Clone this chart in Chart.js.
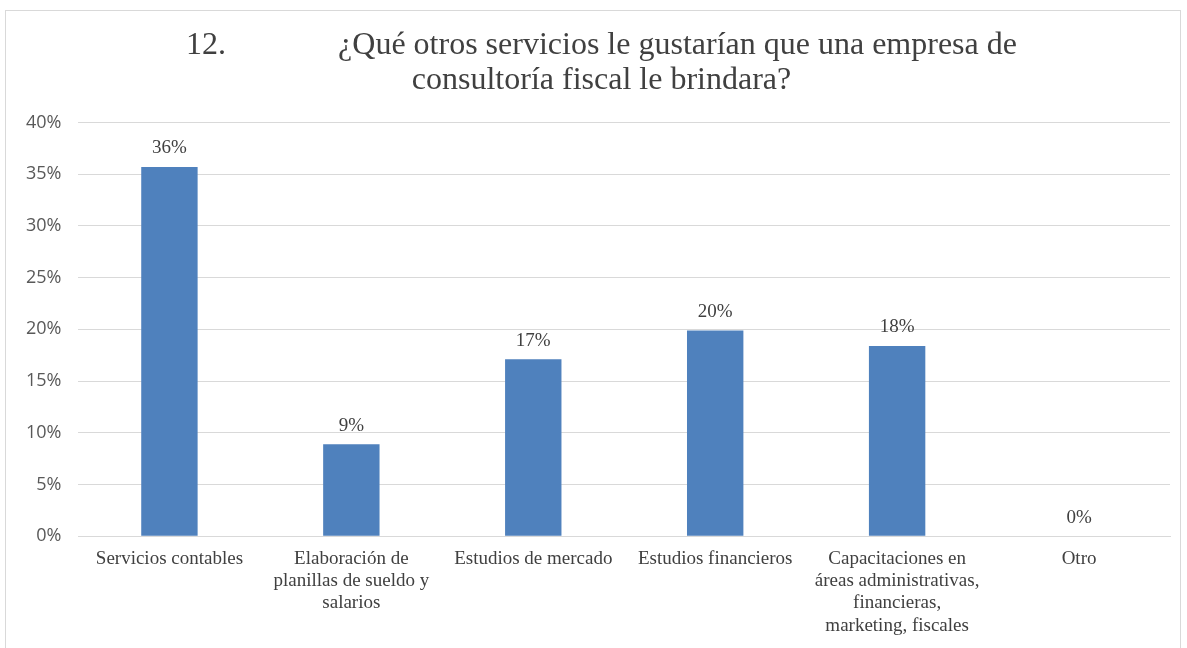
<!DOCTYPE html>
<html>
<head>
<meta charset="utf-8">
<script src="https://cdn.jsdelivr.net/npm/chart.js@4/dist/chart.umd.min.js"></script>
<style>
  html, body { margin: 0; padding: 0; background: #fff; }
  #wrap { position: relative; width: 1187px; height: 648px; }
  #frame { position: absolute; left: 5px; top: 10px; width: 1176px; height: 640px;
           border: 1px solid #d9d9d9; box-sizing: border-box; pointer-events: none; }
</style>
</head>
<body>
<div id="wrap">
  <canvas id="chart" width="1187" height="648"></canvas>
  <div id="frame"></div>
</div>
<script>
// Categories (x axis)
const categories = [
    'Servicios contables',
    ['Elaboración de', 'planillas de sueldo y', 'salarios'],
    'Estudios de mercado',
    'Estudios financieros',
    ['Capacitaciones en', 'áreas administrativas,', 'financieras,', 'marketing, fiscales'],
    'Otro'
];

// Percentages
const percentValues = [35.7, 8.9, 17.1, 19.9, 18.4, 0];

// Y axis ticks
const yTicks = [0, 5, 10, 15, 20, 25, 30, 35, 40];

// leading nbsp nudges the centred title a bit to the right, as in the original
const nb = n => '\u00A0'.repeat(n);
const titleLines = [
    nb(3) + '12.' + nb(14) + '¿Qué otros servicios le gustarían que una empresa de',
    nb(3) + 'consultoría fiscal le brindara?'
];

// Small plugin to write the value above each bar
const barValueLabels = {
    id: 'barValueLabels',
    afterDatasetsDraw(chart) {
        const ctx = chart.ctx;
        const meta = chart.getDatasetMeta(0);
        ctx.save();
        ctx.font = '19px "Liberation Serif", serif';
        ctx.fillStyle = '#404040';
        ctx.textAlign = 'center';
        ctx.textBaseline = 'bottom';
        meta.data.forEach((bar, i) => {
            const v = chart.data.datasets[0].data[i];
            ctx.fillText(Math.round(v) + '%', bar.x, bar.y - 9);
        });
        ctx.restore();
    }
};

const ctx = document.getElementById('chart').getContext('2d');
new Chart(ctx, {
    type: 'bar',
    data: {
        labels: categories,
        datasets: [{
            data: percentValues,
            backgroundColor: '#4f81bd',
            borderWidth: 0,
            categoryPercentage: 1.0,
            barPercentage: 0.31
        }]
    },
    options: {
        responsive: false,
        animation: false,
        layout: { padding: { top: 28, left: 9, right: 17, bottom: 8 } },
        plugins: {
            legend: { display: false },
            tooltip: { enabled: false },
            title: {
                display: true,
                text: titleLines,
                color: '#404040',
                font: { family: '"Liberation Serif", serif', size: 32, weight: 'normal', lineHeight: 1.1 },
                padding: { top: 0, bottom: 24 }
            }
        },
        scales: {
            x: {
                grid: { display: false },
                border: { color: '#d9d9d9' },
                ticks: {
                    color: '#404040',
                    font: { family: '"Liberation Serif", serif', size: 19, lineHeight: 1.18 },
                    maxRotation: 0,
                    autoSkip: false,
                    padding: 3
                }
            },
            y: {
                min: yTicks[0],
                max: yTicks[yTicks.length - 1],
                afterBuildTicks(axis) {
                    axis.ticks = yTicks.map(v => ({ value: v }));
                },
                grid: { color: '#d9d9d9', drawTicks: false },
                border: { display: false },
                ticks: {
                    color: '#595959',
                    font: { family: '"Open Sans", sans-serif', size: 18 },
                    padding: 17,
                    callback: v => v + '%'
                }
            }
        }
    },
    plugins: [barValueLabels]
});
</script>
</body>
</html>
